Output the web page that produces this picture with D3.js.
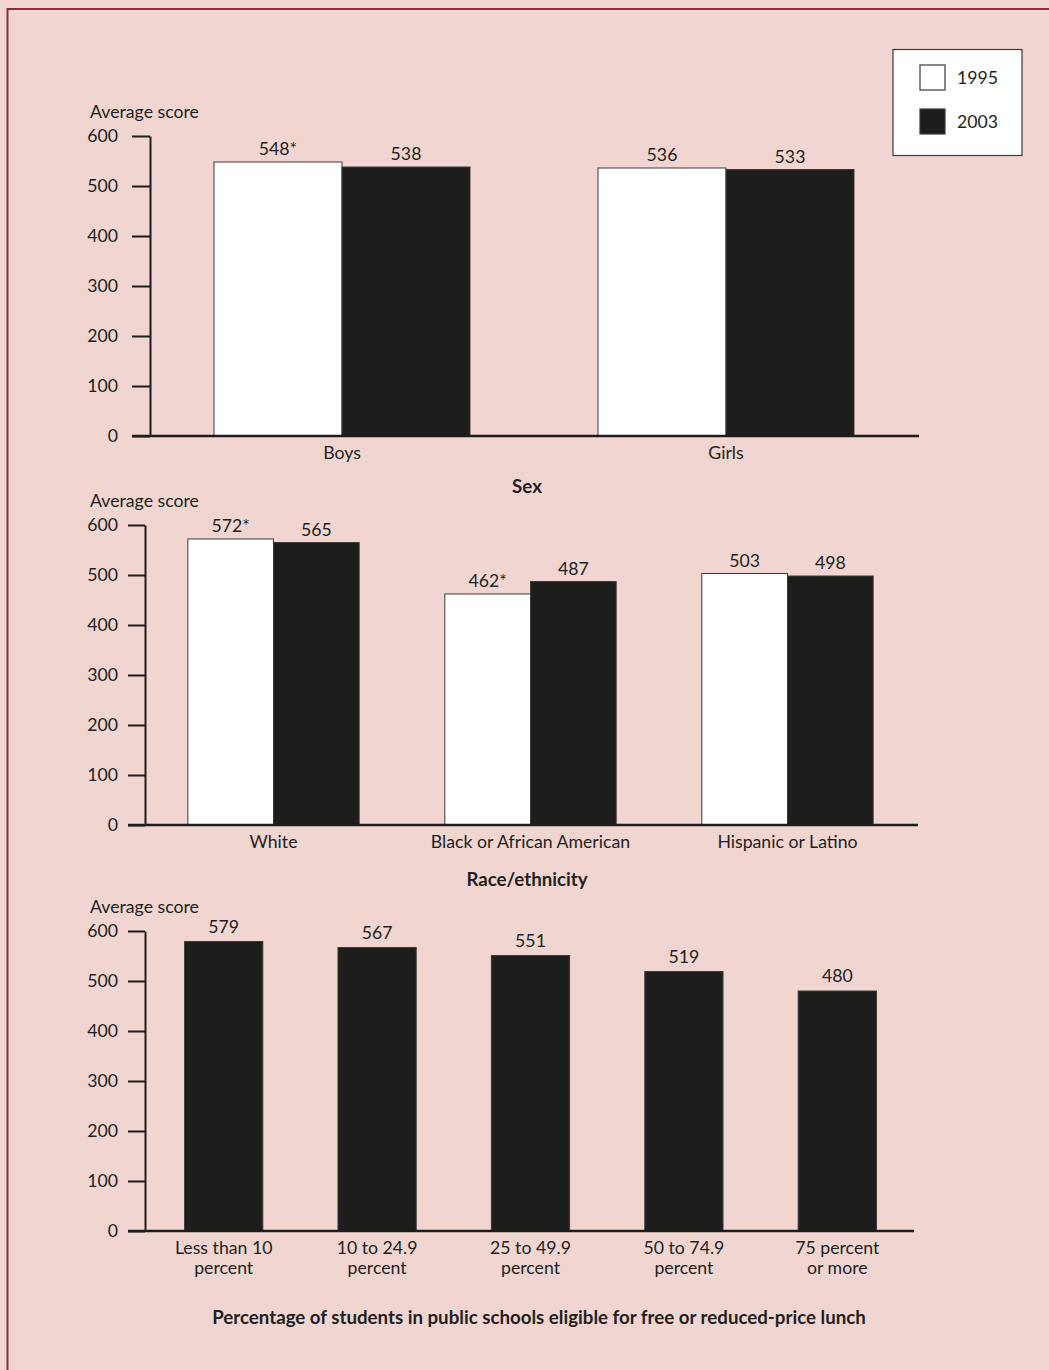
<!DOCTYPE html>
<html>
<head>
<meta charset="utf-8">
<script src="https://cdn.jsdelivr.net/npm/d3@7"></script>
<style>
  html, body { margin: 0; padding: 0; background: #f0d5d1; }
  svg { display: block; }
  text { font-family: Lato, "Open Sans", sans-serif; fill: #231f20; }
</style>
</head>
<body>
<svg id="chart" width="1049" height="1370"></svg>
<script>
// ---- data ----
const years = ["1995", "2003"];
const yTicks = [0, 100, 200, 300, 400, 500, 600];

const sexCategories = ["Boys", "Girls"];
const sex1995 = [548, 536];
const sex2003 = [538, 533];
const sexFlags1995 = ["*", ""];

const raceCategories = ["White", "Black or African American", "Hispanic or Latino"];
const race1995 = [572, 462, 503];
const race2003 = [565, 487, 498];
const raceFlags1995 = ["*", "*", ""];

const lunchCategories = [["Less than 10", "percent"], ["10 to 24.9", "percent"], ["25 to 49.9", "percent"], ["50 to 74.9", "percent"], ["75 percent", "or more"]];
const lunch2003 = [579, 567, 551, 519, 480];

// ---- drawing ----
const INK = "#1d1d1b";
const FS = 17.7;      // regular text size
const FS_BOLD = 18.7; // panel titles
const svg = d3.select("#chart");

// page frame
svg.append("rect").attr("x", 0).attr("y", 0).attr("width", 1049).attr("height", 1370).attr("fill", "#f0d5d1");
svg.append("line").attr("x1", 7).attr("x2", 1049).attr("y1", 9).attr("y2", 9)
  .attr("stroke", "#8c2b3b").attr("stroke-width", 2);
svg.append("line").attr("x1", 7.5).attr("x2", 7.5).attr("y1", 8).attr("y2", 1370)
  .attr("stroke", "#8c2b3b").attr("stroke-width", 2);

function panel(opt) {
  const g = svg.append("g");
  const y = d3.scaleLinear().domain([0, 600]).range([opt.y0, opt.y0 - 300]);

  // y axis
  const ax = g.append("g").attr("transform", `translate(${opt.axisX},0)`)
    .call(d3.axisLeft(y).tickValues(yTicks).tickSizeInner(opt.tickLen).tickSizeOuter(0).tickPadding(opt.tickPad));
  ax.select(".domain").attr("stroke", INK).attr("stroke-width", 2);
  ax.selectAll(".tick line").attr("stroke", INK).attr("stroke-width", 2);
  ax.selectAll(".tick text").attr("font-size", FS).attr("font-family", "Lato, sans-serif").attr("fill", "#231f20");

  g.append("text").attr("x", 90).attr("y", opt.y0 - 318).attr("font-size", FS).text("Average score");

  return { g, y };
}

function baseline(g, y, x1, x2) {
  g.append("line").attr("x1", x1).attr("x2", x2).attr("y1", y(0)).attr("y2", y(0))
    .attr("stroke", INK).attr("stroke-width", 2.5);
}

function grouped(opt, cats, v1995, v2003, flags) {
  const { g, y } = panel(opt);
  const x = d3.scaleBand().domain(cats).range(opt.xRange).paddingInner(1 / 3).paddingOuter(1 / 6);
  const xi = d3.scaleBand().domain(years).range([0, x.bandwidth()]);
  const rows = cats.map((c, i) => ({ c, vals: [v1995[i], v2003[i]], flag: flags[i] }));

  const grp = g.selectAll(".grp").data(rows).join("g").attr("transform", d => `translate(${x(d.c)},0)`);
  grp.selectAll("rect").data(d => d.vals.map((v, k) => ({ yr: years[k], v }))).join("rect")
    .attr("x", d => xi(d.yr)).attr("width", xi.bandwidth())
    .attr("y", d => y(d.v)).attr("height", d => y(0) - y(d.v))
    .attr("fill", d => d.yr === "1995" ? "#ffffff" : INK)
    .attr("stroke", "#3a3a38").attr("stroke-width", 1);
  grp.selectAll(".val").data(d => d.vals.map((v, k) => ({ yr: years[k], v, flag: k === 0 ? d.flag : "" }))).join("text")
    .attr("class", "val")
    .attr("x", d => xi(d.yr) + xi.bandwidth() / 2).attr("y", d => y(d.v) - 7)
    .attr("text-anchor", "middle").attr("font-size", FS)
    .text(d => d.v + d.flag);

  baseline(g, y, opt.axisX - opt.tickLen, opt.xEnd);

  g.selectAll(".cat").data(cats).join("text").attr("class", "cat")
    .attr("x", d => x(d) + x.bandwidth() / 2).attr("y", y(0) + 23)
    .attr("text-anchor", "middle").attr("font-size", FS).text(d => d);

  g.append("text").attr("x", 527).attr("y", opt.titleY).attr("text-anchor", "middle")
    .attr("font-size", FS_BOLD).attr("font-weight", "bold").text(opt.title);
}

grouped({ y0: 436, axisX: 150, tickLen: 18, tickPad: 14, xRange: [150, 918], xEnd: 919, titleY: 493, title: "Sex" },
  sexCategories, sex1995, sex2003, sexFlags1995);

grouped({ y0: 825, axisX: 145, tickLen: 17, tickPad: 10, xRange: [145, 916], xEnd: 918, titleY: 886, title: "Race/ethnicity" },
  raceCategories, race1995, race2003, raceFlags1995);

// free or reduced-price lunch panel (2003 only)
(function () {
  const opt = { y0: 1231, axisX: 145, tickLen: 17, tickPad: 10 };
  const { g, y } = panel(opt);
  const keys = lunchCategories.map(d => d.join(" "));
  const x = d3.scaleBand().domain(keys).range([147, 914]).paddingInner(0.49).paddingOuter(0.245);
  const rows = keys.map((k, i) => ({ k, lines: lunchCategories[i], v: lunch2003[i] }));

  g.selectAll(".bar").data(rows).join("rect").attr("class", "bar")
    .attr("x", d => x(d.k)).attr("width", x.bandwidth())
    .attr("y", d => y(d.v)).attr("height", d => y(0) - y(d.v))
    .attr("fill", INK).attr("stroke", "#3a3a38").attr("stroke-width", 1);
  g.selectAll(".val").data(rows).join("text").attr("class", "val")
    .attr("x", d => x(d.k) + x.bandwidth() / 2).attr("y", d => y(d.v) - 9)
    .attr("text-anchor", "middle").attr("font-size", FS).text(d => d.v);

  baseline(g, y, opt.axisX - opt.tickLen, 914);

  const lab = g.selectAll(".cat").data(rows).join("text").attr("class", "cat")
    .attr("text-anchor", "middle").attr("font-size", FS);
  lab.selectAll("tspan").data(d => d.lines.map(t => ({ t, cx: x(d.k) + x.bandwidth() / 2 }))).join("tspan")
    .attr("x", d => d.cx).attr("y", (d, i) => y(0) + 23 + i * 20).text(d => d.t);

  g.append("text").attr("x", 539).attr("y", 1324).attr("text-anchor", "middle")
    .attr("font-size", FS_BOLD).attr("font-weight", "bold")
    .text("Percentage of students in public schools eligible for free or reduced-price lunch");
})();

// legend
const lg = svg.append("g");
lg.append("rect").attr("x", 893).attr("y", 49.5).attr("width", 129).attr("height", 106)
  .attr("fill", "#ffffff").attr("stroke", "#3a3a38").attr("stroke-width", 1.2);
const li = lg.selectAll(".item").data(years).join("g").attr("class", "item")
  .attr("transform", (d, i) => `translate(920,${65 + i * 44})`);
li.append("rect").attr("width", 25).attr("height", 25)
  .attr("fill", d => d === "1995" ? "#ffffff" : INK).attr("stroke", "#3a3a38").attr("stroke-width", 1.2);
li.append("text").attr("x", 37).attr("y", 19).attr("font-size", FS).text(d => d);
</script>
</body>
</html>
